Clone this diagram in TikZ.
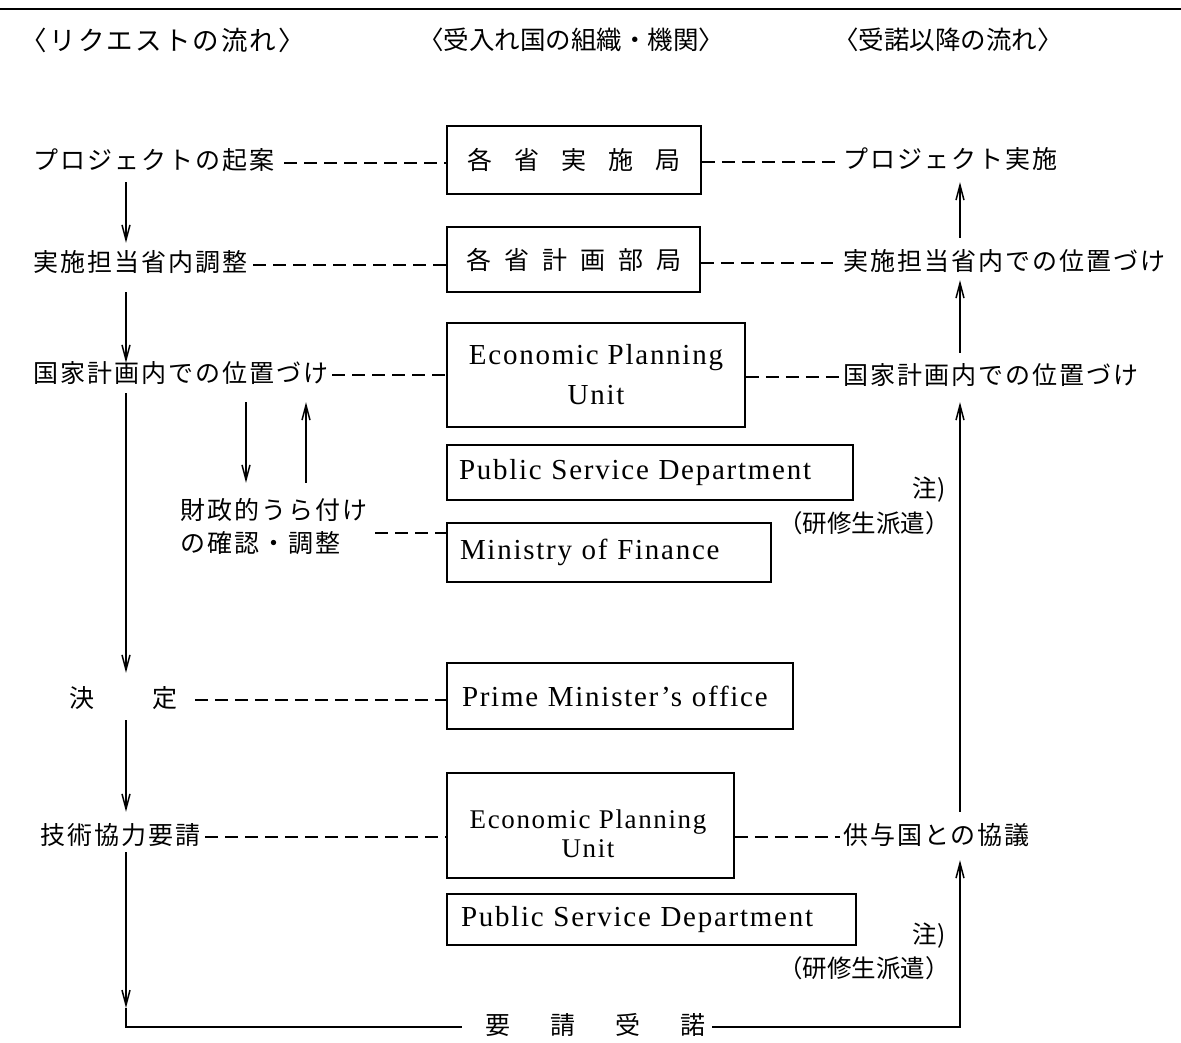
\documentclass[tikz,border=0pt]{standalone}
\usepackage{fontspec}
\usetikzlibrary{arrows.meta,calc}
\newfontfamily\jpfam{Noto Sans CJK JP}[LetterSpace=8]
\newfontfamily\jpplainfam{Noto Sans CJK JP}
\newfontfamily\enfam{Liberation Serif}[LetterSpace=6]
\newcommand\jpbig{\jpfam\fontsize{25pt}{30pt}\selectfont}
\newcommand\jphead{\jpplainfam\fontsize{25.5pt}{30pt}\selectfont}
\newcommand\jpheadwide{\jpfam\fontsize{26.5pt}{30pt}\selectfont}
\newcommand\jpsmall{\jpplainfam\fontsize{24.5pt}{28pt}\selectfont}
\newcommand\enbig{\enfam\fontsize{29pt}{40pt}\selectfont}
\newcommand\enmid{\enfam\fontsize{27pt}{29pt}\selectfont}
\tikzset{
  jtext/.style={inner sep=0pt, font=\jpbig, text height=19pt, text depth=5pt},
  box/.style={draw, line width=1.8pt, inner ysep=0pt},
  dashline/.style={line width=1.4pt, dash pattern=on 13pt off 7pt},
  arr/.style={line width=1.8pt, -{Straight Barb[length=15pt,width=8pt,line width=1.5pt]}},
  plainline/.style={line width=1.8pt},
}
\begin{document}
\begin{tikzpicture}[x=1pt,y=-1pt]
\useasboundingbox (0,0) rectangle (1181,1043);
\fill[white] (0,0) rectangle (1181,1043);
% top rule
\draw[line width=1.5pt] (0,9) -- (1181,9);
% headers
\node[font=\jpheadwide, inner sep=0pt] (h1) at (163,40) {〈リクエストの流れ〉};
\node[font=\jphead, inner sep=0pt] (h2) at (571,40) {〈受入れ国の組織・機関〉};
\node[font=\jphead, inner sep=0pt] (h3) at (948,40) {〈受諾以降の流れ〉};
% helper x positions
\coordinate (lx) at (126,0);
\coordinate (rx) at (960,0);
\coordinate (sx1) at (246,0);
\coordinate (sx2) at (306,0);
% left texts
\node[jtext, anchor=west] (l1) at (33,163) {プロジェクトの起案};
\node[jtext, anchor=west] (l2) at (33,265) {実施担当省内調整};
\node[jtext, anchor=west] (l3) at (33,375) {国家計画内での位置づけ};
\node[jtext, anchor=west] (fin1) at (180,512) {財政的うら付け};
\node[jtext, anchor=west] (fin2) at (180,545) {の確認・調整};
\node[jtext, anchor=west] (dec) at (69,700) {決\hspace{58pt}定};
\node[jtext, anchor=west] (l5) at (40,837) {技術協力要請};
% right texts
\node[jtext, anchor=west] (r1) at (843,162) {プロジェクト実施};
\node[jtext, anchor=west] (r2) at (843,263) {実施担当省内での位置づけ};
\node[jtext, anchor=west] (r3) at (843,377) {国家計画内での位置づけ};
\node[jtext, anchor=west] (r5) at (843,837) {供与国との協議};
% notes
\node[font=\jpsmall, inner sep=0pt] (n1) at (929,490) {注)};
\node[font=\jpsmall, inner sep=0pt] (p1) at (864,523) {（研修生派遣）};
\node[font=\jpsmall, inner sep=0pt] (n2) at (929,936) {注)};
\node[font=\jpsmall, inner sep=0pt] (p2) at (864,968) {（研修生派遣）};
% boxes
\node[box, minimum width=254pt, minimum height=68pt, font=\jpbig] (b1) at (574,160)
  {各\hspace{22pt}省\hspace{22pt}実\hspace{22pt}施\hspace{22pt}局};
\node[box, minimum width=253pt, minimum height=65pt, font=\jpbig] (b2) at (573.5,259.5)
  {各\hspace{13pt}省\hspace{13pt}計\hspace{13pt}画\hspace{13pt}部\hspace{13pt}局};
\node[box, minimum width=298pt, minimum height=104pt, font=\enbig, align=center] (b3) at (596,375)
  {Economic Planning\\Unit};
\node[box, minimum height=55pt, inner xsep=12pt, text width=382pt, align=left, font=\enbig] (b4) at (650,472.5)
  {Public Service Department};
\node[box, minimum height=59pt, inner xsep=13pt, text width=298pt, align=left, font=\enbig] (b5) at (609,552.5)
  {Ministry of Finance};
\node[box, minimum height=66pt, inner xsep=15pt, text width=316pt, align=left, font=\enbig] (b6) at (620,696)
  {Prime Minister’s office};
\node[box, minimum width=287pt, minimum height=105pt] (b7) at (590.5,825.5) {};
\node[font=\enmid, align=center, inner sep=0pt] (b7t) at (588,834) {Economic Planning\\Unit};
\node[box, minimum height=51pt, inner xsep=14pt, text width=381pt, align=left, font=\enbig] (b8) at (651.5,919.5)
  {Public Service Department};
% bottom label
\node[jtext] (acc) at (595,1027) {要\hspace{40pt}請\hspace{40pt}受\hspace{40pt}諾};
% dashed connectors
\draw[dashline, shorten <=10pt] (l1.east) -- (b1.west |- l1.east);
\draw[dashline, shorten >=3pt] (b1.east |- r1.west) -- (r1.west);
\draw[dashline, shorten <=6pt] (l2.east) -- (b2.west |- l2.east);
\draw[dashline, shorten >=10pt] (b2.east |- r2.west) -- (r2.west);
\draw[dashline, shorten <=4pt] (l3.east) -- (b3.west |- l3.east);
\draw[dashline, shorten >=3pt] (b3.east |- r3.west) -- (r3.west);
\coordinate (fd) at (375,533);
\draw[dashline] (fd) -- (b5.west |- fd);
\draw[dashline, shorten <=18pt] (dec.east) -- (b6.west |- dec.east);
\draw[dashline, shorten <=5pt] (l5.east) -- (b7.west |- l5.east);
\draw[dashline, shorten >=3pt] (b7.east |- r5.west) -- (r5.west);
% left flow
\draw[arr, shorten <=7pt, shorten >=10pt] (l1.south -| lx) -- (l2.north -| lx);
\draw[arr, shorten <=15pt] (l2.south -| lx) -- (l3.north -| lx);
\draw[arr, shorten <=6pt, shorten >=15pt] (l3.south -| lx) -- (dec.north -| lx);
\draw[arr, shorten <=8pt, shorten >=13pt] (dec.south -| lx) -- (l5.north -| lx);
\coordinate (c1) at (126,1008);
\draw[arr, shorten <=3pt] (l5.south -| lx) -- (c1);
\draw[plainline, shorten >=23pt] (c1) -- (lx |- acc.west) -- (acc.west);
\draw[arr, shorten <=7pt, shorten >=11pt] (acc.east) -- (rx |- acc.east) -- (r5.south -| rx);
% sub arrows
\draw[arr, shorten <=15pt, shorten >=17pt] (l3.south -| sx1) -- (fin1.north -| sx1);
\draw[arr, shorten <=17pt, shorten >=15pt] (fin1.north -| sx2) -- (l3.south -| sx2);
% right flow
\draw[arr, shorten <=13pt, shorten >=13pt] (r5.north -| rx) -- (r3.south -| rx);
\draw[arr, shorten <=12pt, shorten >=5pt] (r3.north -| rx) -- (r2.south -| rx);
\draw[arr, shorten <=13pt, shorten >=8pt] (r2.north -| rx) -- (r1.south -| rx);
\end{tikzpicture}
\end{document}
